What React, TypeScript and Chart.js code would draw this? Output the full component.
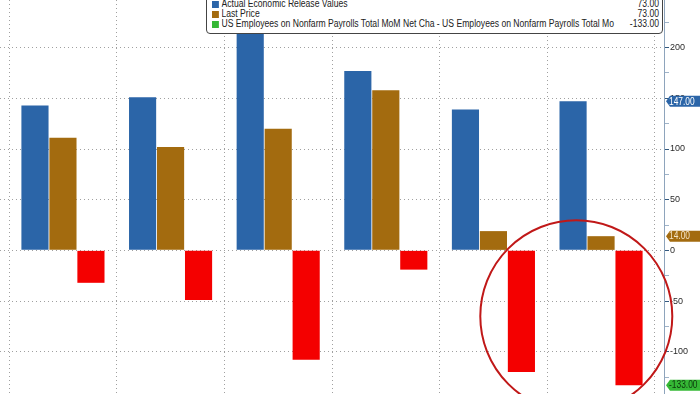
import React, { useEffect, useRef } from "react";
import { Chart, registerables } from "chart.js";

Chart.register(...registerables);

// Months Jan..Jun 2025 (no axis labels shown)
const categories = ["Jan", "Feb", "Mar", "Apr", "May", "Jun"];
const actualValues = [143, 151, 228, 177, 139, 147];
const lastPrice = [111, 102, 120, 158, 19, 14];
const netChange = [-32, -49, -108, -19, -120, -133];

const legendLabels = [
  "Actual Economic Release Values",
  "Last Price",
  "US Employees on Nonfarm Payrolls Total MoM Net Cha - US Employees on Nonfarm Payrolls Total Mo",
];
const legendValues = ["73.00", "73.00", "-133.00"];
const tagValues = [147, 14, -133];
const tagLabels = ["147.00", "14.00", "-133.00"];

const BLUE = "#2b65a8";
const BROWN = "#a36b0f";
const RED = "#f40000";
const GREEN = "#35b835";
const FONT = "'Liberation Sans', Arial, sans-serif";

const tagColors = [
  { bg: BLUE, fg: "#ffffff" },
  { bg: BROWN, fg: "#f3e3c6" },
  { bg: GREEN, fg: "#0c3a0c" },
];
const legendColors = [BLUE, BROWN, GREEN];

// annotation circle (centre in data units, radius in px)
const circleCenter = { x: 4.77, y: -65 };
const circleRadius = 96;

const overlayPlugin = {
  id: "overlay",
  afterDatasetsDraw(chart: any) {
    const { ctx, scales } = chart;
    const cx = scales.x.getPixelForValue(circleCenter.x);
    const cy = scales.y.getPixelForValue(circleCenter.y);
    ctx.save();
    ctx.beginPath();
    ctx.arc(cx, cy, circleRadius, 0, Math.PI * 2);
    ctx.strokeStyle = "#c01818";
    ctx.lineWidth = 2;
    ctx.stroke();
    ctx.restore();
  },
  afterDraw(chart: any) {
    const { ctx, scales, chartArea } = chart;
    const x0 = chartArea.right;
    ctx.save();
    ctx.font = "10px " + FONT;
    ctx.textBaseline = "middle";
    ctx.textAlign = "left";
    tagValues.forEach((v, i) => {
      const y = scales.y.getPixelForValue(v);
      const h = 5.5;
      ctx.beginPath();
      ctx.moveTo(x0 + 2, y);
      ctx.lineTo(x0 + 6, y - h);
      ctx.lineTo(700, y - h);
      ctx.lineTo(700, y + h);
      ctx.lineTo(x0 + 6, y + h);
      ctx.closePath();
      ctx.fillStyle = tagColors[i].bg;
      ctx.fill();
      ctx.save();
      ctx.translate(x0 + 5, y + 0.5);
      ctx.scale(0.84, 1);
      ctx.fillStyle = tagColors[i].fg;
      ctx.fillText(tagLabels[i], 0, 0);
      ctx.restore();
    });
    ctx.restore();
  },
};

export default function App() {
  const canvasRef = useRef<HTMLCanvasElement | null>(null);

  useEffect(() => {
    if (!canvasRef.current) return;
    const mk = (arr: number[]) => arr.map((v, i) => ({ x: i, y: v }));
    const chart = new Chart(canvasRef.current, {
      type: "bar",
      data: {
        labels: categories,
        datasets: [
          { label: legendLabels[0], data: mk(actualValues) as any, backgroundColor: BLUE },
          { label: legendLabels[1], data: mk(lastPrice) as any, backgroundColor: BROWN },
          { label: legendLabels[2], data: mk(netChange) as any, backgroundColor: RED },
        ],
      },
      options: {
        responsive: false,
        animation: false,
        events: [],
        layout: { padding: 0 },
        datasets: {
          bar: { categoryPercentage: 0.78, barPercentage: 0.97 },
        } as any,
        plugins: { legend: { display: false }, tooltip: { enabled: false } },
        scales: {
          x: {
            type: "linear",
            min: -0.585,
            max: 5.585,
            offset: false,
            ticks: { display: false, stepSize: 1, includeBounds: false },
            grid: { color: "#a0a0a0", drawTicks: false, lineWidth: 1 },
            border: { display: false, dash: [1, 3] },
            afterFit: (s: any) => {
              s.height = 0;
              s.paddingLeft = 0;
              s.paddingRight = 0;
            },
          },
          y: {
            position: "right",
            min: -141.7,
            max: 247,
            ticks: {
              stepSize: 25,
              includeBounds: false,
              autoSkip: false,
              padding: 1,
              crossAlign: "near",
              color: "#2a2a2a",
              font: { family: FONT, size: 9 },
              callback: (v: any) => (Number(v) % 50 === 0 ? String(v) : ""),
            },
            grid: {
              color: (c: any) => (c.tick && c.tick.value % 50 === 0 ? "#a0a0a0" : "rgba(0,0,0,0)"),
              tickColor: (c: any) => (c.tick && c.tick.value % 50 === 0 ? "#34597e" : "#9fb3c8"),
              tickLength: 5,
              lineWidth: 1,
            },
            border: { display: true, color: "#8ea4bc", width: 1, dash: [1, 3] },
            afterFit: (s: any) => {
              s.width = 36;
              s.paddingTop = 0;
              s.paddingBottom = 0;
            },
          },
        },
      },
      plugins: [overlayPlugin],
    });
    return () => chart.destroy();
  }, []);

  const scale = 0.86;
  return (
    <div style={{ position: "fixed", left: 0, top: 0, width: 700, height: 394, background: "#fff", overflow: "hidden" }}>
      <canvas ref={canvasRef} width={700} height={394} style={{ display: "block" }} />
      <div
        style={{
          position: "absolute",
          left: 206,
          top: -6,
          width: 457,
          height: 40,
          boxSizing: "border-box",
          border: "1px solid #444",
          borderRadius: 4,
          background: "#fff",
          paddingTop: 4,
          paddingLeft: 5,
          fontFamily: FONT,
          fontSize: 10,
          color: "#222",
          overflow: "hidden",
        }}
      >
        <div style={{ width: 447 / scale, transform: `scaleX(${scale})`, transformOrigin: "0 0" }}>
          {legendLabels.map((l, i) => (
            <div key={i} style={{ display: "flex", alignItems: "center", height: 10, lineHeight: "10px", whiteSpace: "nowrap" }}>
              <span style={{ width: 8, height: 7, background: legendColors[i], marginRight: 3, flex: "none" }} />
              <span style={{ flex: 1, overflow: "hidden" }}>{l}</span>
              <span style={{ marginLeft: 2 }}>{legendValues[i]}</span>
            </div>
          ))}
        </div>
      </div>
    </div>
  );
}
